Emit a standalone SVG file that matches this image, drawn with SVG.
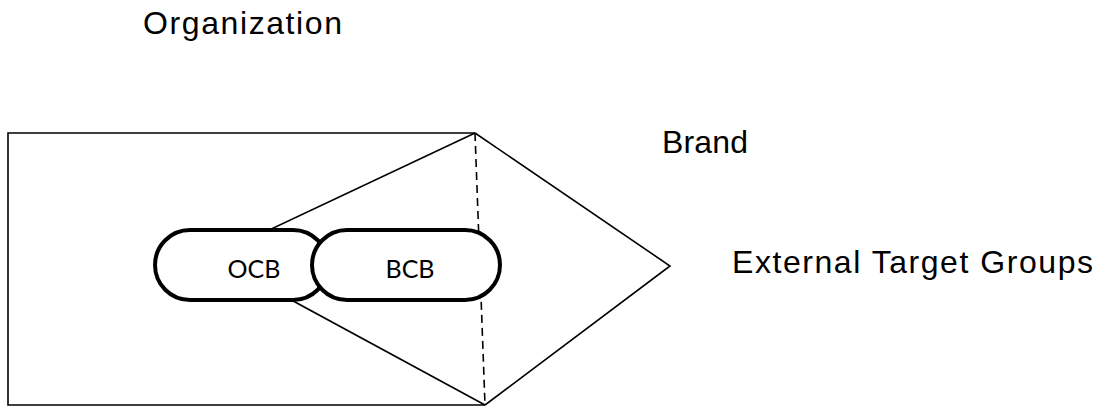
<svg xmlns="http://www.w3.org/2000/svg" width="1107" height="409" viewBox="0 0 1107 409">
  <style>
    .label { font-family: "Liberation Sans", Arial, sans-serif; font-size: 32px; fill: #000; }
    .pill-text { font-family: Lato, "Open Sans", sans-serif; font-size: 25px; fill: #000; text-anchor: middle; }
    .edge { fill: none; stroke: #000; stroke-width: 1.6; stroke-linejoin: miter; }
    .dash { fill: none; stroke: #000; stroke-width: 1.6; stroke-dasharray: 8 5; }
    .pill { fill: #fff; stroke: #000; stroke-width: 4; }
  </style>
  <rect width="1107" height="409" fill="#fff"/>

  <!-- Organization frame -->
  <g id="organization">
    <polyline class="edge" points="475,133 8,133 8,405 485,405"/>
    <text class="label" x="143" y="34" textLength="199" lengthAdjust="spacing">Organization</text>
  </g>

  <!-- Brand wedge and outer target-group point -->
  <g id="connectors">
    <line class="edge" x1="475" y1="133" x2="212" y2="257"/>
    <line class="edge" x1="485" y1="405" x2="212" y2="257"/>
    <polyline class="edge" points="475,133 670,266 485,405"/>
    <line class="dash" x1="475" y1="133" x2="485" y2="405"/>
  </g>

  <g id="brand">
    <text class="label" x="662" y="153" textLength="86" lengthAdjust="spacing">Brand</text>
  </g>

  <g id="external-target-groups">
    <text class="label" x="732" y="273" textLength="361" lengthAdjust="spacing">External Target Groups</text>
  </g>

  <!-- Capability pills -->
  <g id="ocb">
    <rect class="pill" x="155" y="230" width="173" height="70" rx="35" ry="35"/>
    <text class="pill-text" x="254" y="278">OCB</text>
  </g>
  <g id="bcb">
    <rect class="pill" x="312" y="230" width="188" height="70" rx="35" ry="35"/>
    <text class="pill-text" x="410" y="278">BCB</text>
  </g>
</svg>
